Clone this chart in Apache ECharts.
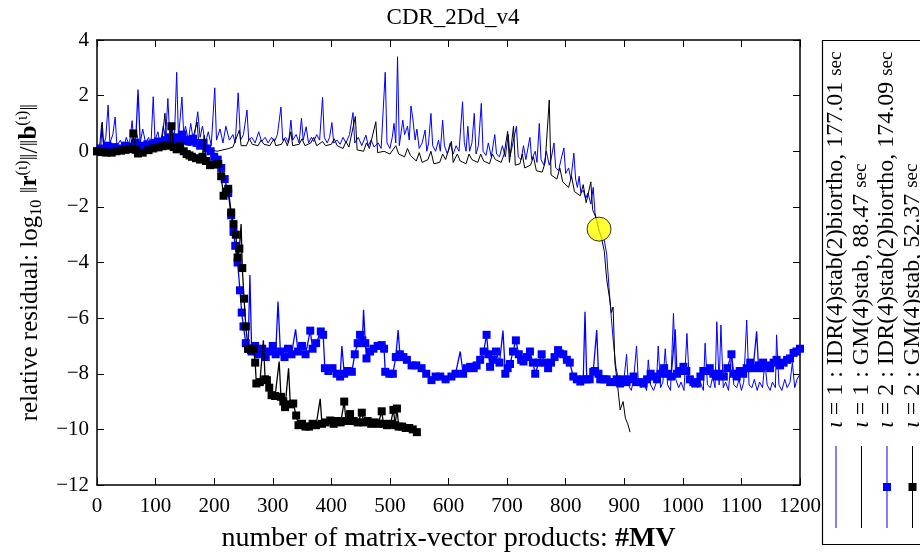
<!DOCTYPE html>
<html><head><meta charset="utf-8">
<script src="https://cdn.jsdelivr.net/npm/echarts@6/dist/echarts.min.js"></script>
<style>html,body{margin:0;padding:0;background:#fff}#c{width:920px;height:558px}</style>
</head><body><div id="c"></div>
<script>
const titleText = 'CDR_2Dd_v4';
const xTicks = { min: 0, max: 1200, step: 100 };
const yTicks = { min: -12, max: 4, step: 2 };
const legendNames = [
  ['1', 'IDR(4)stab(2)biortho, 177.01'],
  ['1', 'GM(4)stab, 88.47'],
  ['2', 'IDR(4)stab(2)biortho, 174.09'],
  ['2', 'GM(4)stab, 52.37']
];
// ι = 1 : IDR(4)stab(2)biortho
const s1 = [[0,0.0],[5,0.3],[8,1.0],[11,0.2],[15,0.5],[19,1.66],[22,0.3],[27,0.6],[31,1.23],[34,0.2],[40,0.4],[45,0.1],[50,0.5],[55,0.2],[60,1.1],[63,0.3],[68,0.6],[73,0.2],[78,0.8],[83,0.3],[88,0.5],[92,0.2],[96,1.96],[99,0.4],[104,0.7],[108,0.2],[113,0.9],[117,0.5],[121,1.9],[124,0.6],[128,0.9],[132,0.4],[136,2.84],[139,0.5],[142,1.2],[145,1.95],[148,0.6],[151,0.9],[156,0.4],[160,1.0],[165,0.3],[168,0.8],[172,1.42],[176,0.5],[180,0.9],[185,0.3],[190,0.7],[195,0.2],[201,2.28],[204,0.4],[210,0.8],[215,0.3],[220,0.9],[226,0.4],[232,0.6],[236,0.3],[241,2.1],[245,0.4],[250,0.6],[256,1.48],[259,0.4],[264,0.5],[270,0.3],[276,0.7],[281,0.35],[287,0.5],[292,0.3],[298,0.5],[303,0.35],[308,0.6],[314,1.59],[317,0.4],[322,0.5],[327,0.3],[331,1.12],[334,0.4],[340,0.6],[345,0.3],[349,1.19],[352,0.4],[357,0.88],[361,0.3],[366,0.5],[370,0.35],[375,0.6],[380,0.4],[385,1.94],[388,0.5],[393,0.3],[397,0.5],[401,1.03],[404,0.3],[410,0.4],[415,0.25],[420,0.5],[425,0.3],[431,0.6],[437,1.39],[440,0.3],[446,0.5],[452,0.2],[459,0.58],[463,0.2],[468,0.4],[473,0.15],[480,0.3],[485,0.1],[492,2.84],[495,0.3],[500,0.1],[504,0.5],[507,1.0],[510,0.3],[513,3.4],[516,0.2],[522,1.12],[525,0.6],[530,0.9],[533,0.4],[536,1.63],[539,1.2],[543,0.4],[546,0.8],[550,0.1],[555,0.3],[560,0.76],[563,0.0],[566,0.3],[570,1.36],[573,0.2],[578,0.0],[583,0.4],[586,0.0],[590,1.12],[593,0.2],[598,-0.1],[603,0.3],[608,-0.1],[613,0.2],[618,0.0],[624,1.78],[627,0.3],[630,0.0],[633,0.9],[636,0.0],[640,0.3],[644,1.36],[647,-0.1],[651,0.2],[656,1.72],[659,0.0],[664,-0.15],[668,0.3],[673,-0.2],[679,0.6],[682,-0.1],[687,-0.2],[692,0.2],[697,-0.2],[702,0.6],[705,-0.2],[710,0.3],[716,0.9],[719,-0.2],[724,-0.3],[728,0.2],[732,-0.3],[739,0.5],[742,-0.3],[748,0.0],[751,-0.4],[755,1.0],[758,-0.3],[763,-0.5],[767,0.0],[772,-0.5],[775,-0.3],[780,0.3],[783,-0.6],[788,-0.7],[792,-0.3],[797,0.12],[800,-0.8],[805,-0.6],[809,-1.0],[814,-0.07],[817,-1.0],[820,-1.3],[823,-0.9],[826,-1.5],[830,-1.4],[834,-1.7],[838,-1.5],[843,-1.9],[847,-1.3],[850,-2.2],[853,-2.5],[857,-2.9],[862,-3.1],[866,-3.2],[870,-3.7],[874,-4.9],[878,-6.0],[882,-7.0],[886,-7.8],[890,-8.2],[895,-8.3],[900,-8.1],[904,-7.3],[907,-8.4],[912,-8.6],[916,-8.2],[921,-7.0],[924,-8.3],[929,-8.5],[933,-8.3],[938,-8.6],[941,-7.5],[945,-8.4],[950,-8.6],[955,-8.3],[958,-7.0],[962,-8.5],[966,-8.3],[970,-7.1],[974,-8.4],[979,-8.6],[984,-5.83],[988,-8.2],[993,-8.5],[997,-8.3],[1002,-8.6],[1007,-6.55],[1011,-8.3],[1016,-8.5],[1020,-8.2],[1025,-8.5],[1030,-8.3],[1035,-8.6],[1038,-6.9],[1042,-8.4],[1047,-8.5],[1051,-8.1],[1055,-8.5],[1058,-6.13],[1062,-8.4],[1065,-6.25],[1069,-8.5],[1073,-8.3],[1078,-8.6],[1083,-7.3],[1087,-8.4],[1092,-8.5],[1096,-8.2],[1100,-8.6],[1104,-8.3],[1109,-6.07],[1113,-8.4],[1118,-8.5],[1122,-8.2],[1127,-8.6],[1131,-8.3],[1136,-8.5],[1140,-7.6],[1144,-8.4],[1149,-8.6],[1153,-8.3],[1158,-8.5],[1160,-6.6],[1164,-8.4],[1169,-8.6],[1174,-8.2],[1178,-8.5],[1183,-8.3],[1187,-7.6],[1191,-8.5],[1195,-8.2],[1200,-8.0]];
// ι = 1 : GM(4)stab
const s2 = [[0,0.0],[6,0.0],[9,1.05],[12,0.0],[20,0.05],[30,0.0],[40,0.05],[50,0.0],[60,0.1],[70,0.05],[80,0.1],[90,0.1],[100,0.15],[110,0.2],[116,1.37],[119,0.2],[130,0.25],[140,0.3],[150,0.25],[160,0.2],[171,1.05],[174,0.15],[185,0.1],[195,0.05],[205,0.0],[215,0.05],[225,0.1],[232,0.15],[243,0.76],[246,0.2],[255,0.2],[260,0.45],[265,0.25],[275,0.2],[280,0.4],[285,0.25],[295,0.2],[302,0.45],[305,0.2],[315,0.25],[320,0.45],[325,0.2],[331,0.7],[334,0.2],[345,0.25],[350,0.45],[355,0.2],[365,0.3],[370,0.5],[375,0.2],[385,0.35],[390,0.2],[400,0.25],[405,0.45],[410,0.2],[420,0.1],[425,0.35],[430,0.15],[441,1.25],[444,0.05],[455,0.0],[460,0.3],[465,0.1],[476,1.06],[479,-0.05],[490,0.0],[500,-0.1],[510,0.2],[515,-0.1],[525,-0.2],[530,0.1],[535,-0.15],[545,-0.35],[550,-0.05],[555,-0.4],[565,-0.3],[570,0.0],[575,-0.45],[585,-0.4],[590,-0.1],[595,-0.3],[605,0.36],[608,-0.4],[615,-0.1],[620,-0.35],[630,-0.45],[635,-0.1],[640,-0.3],[650,-0.4],[655,-0.1],[660,-0.35],[670,-0.45],[675,-0.1],[680,-0.3],[690,-0.4],[695,-0.1],[701,0.72],[704,-0.4],[711,0.9],[714,-0.5],[722,-0.45],[726,-0.1],[730,-0.6],[740,-0.5],[745,-0.2],[750,-0.7],[760,-0.75],[765,-0.4],[772,1.84],[775,-0.85],[785,-1.0],[790,-0.6],[795,-1.1],[805,-1.3],[810,-0.9],[815,-1.45],[825,-1.6],[830,-1.2],[835,-1.85],[843,-1.1],[846,-2.1],[852,-2.4],[857,-2.8],[862,-3.2],[866,-3.6],[870,-4.6],[875,-5.3],[878,-5.8],[881,-5.6],[884,-7.6],[888,-8.3],[893,-9.3],[898,-9.0],[902,-9.6],[906,-9.8],[910,-10.1]];
// ι = 2 : IDR(4)stab(2)biortho
const s3 = [[0,0.0],[6,0.1],[12,0.05],[18,0.2],[24,0.1],[30,0.15],[36,0.05],[42,0.1],[48,0.2],[54,0.1],[60,0.15],[66,0.3],[70,2.22],[74,0.2],[80,0.15],[86,0.25],[92,0.2],[98,0.3],[104,0.35],[110,0.3],[116,0.4],[122,0.5],[128,0.4],[134,0.5],[140,0.45],[146,0.6],[152,0.4],[158,0.35],[164,0.45],[170,0.3],[176,0.2],[182,0.3],[188,0.1],[194,0.0],[200,-0.2],[206,-0.3],[212,-0.6],[218,-1.0],[224,-1.5],[229,-2.3],[233,-2.9],[236,-3.4],[240,-4.0],[244,-5.0],[247,-5.8],[250,-6.3],[254,-6.9],[258,-7.1],[261,-4.45],[264,-7.2],[270,-7.0],[276,-7.3],[282,-7.1],[288,-7.4],[294,-7.2],[300,-7.0],[305,-7.3],[309,-5.4],[313,-7.2],[320,-7.4],[326,-7.1],[332,-7.3],[339,-6.4],[343,-7.2],[350,-7.0],[356,-7.3],[364,-6.45],[368,-7.1],[374,-6.9],[382,-6.48],[386,-6.6],[389,-7.8],[395,-7.9],[402,-7.8],[409,-8.0],[415,-8.1],[418,-7.0],[422,-8.0],[428,-7.9],[435,-7.93],[440,-7.3],[445,-6.9],[449,-6.6],[453,-6.8],[455,-5.7],[458,-6.9],[460,-7.45],[466,-7.2],[472,-7.1],[479,-7.0],[486,-6.97],[490,-7.1],[492,-7.93],[499,-8.0],[505,-8.0],[510,-7.4],[514,-6.43],[517,-7.3],[523,-7.4],[529,-7.5],[537,-7.7],[545,-7.7],[554,-7.8],[562,-8.0],[571,-8.23],[578,-8.1],[586,-8.1],[595,-8.2],[605,-8.1],[612,-8.0],[620,-7.2],[625,-8.0],[631,-7.8],[637,-7.75],[643,-7.8],[648,-7.7],[654,-7.5],[660,-7.2],[665,-6.6],[668,-7.3],[671,-7.75],[676,-7.5],[681,-7.2],[687,-7.6],[693,-6.45],[697,-8.0],[701,-7.8],[705,-7.65],[710,-7.2],[715,-6.8],[720,-7.3],[724,-7.5],[728,-7.56],[734,-7.4],[739,-7.2],[744,-7.6],[748,-8.0],[754,-7.6],[759,-7.3],[764,-7.6],[770,-7.8],[775,-7.6],[781,-7.4],[787,-7.15],[790,-7.27],[796,-7.3],[802,-7.5],[807,-7.6],[813,-8.1],[819,-8.2],[825,-8.28],[830,-8.2],[833,-5.77],[836,-8.2],[841,-8.2],[847,-7.93],[850,-7.9],[853,-6.43],[856,-8.0],[859,-8.2],[865,-8.2],[870,-8.2],[876,-8.3],[882,-8.3],[887,-8.2],[893,-8.35],[898,-8.2],[904,-8.3],[910,-8.2],[916,-8.1],[921,-8.3],[927,-8.3],[933,-8.35],[939,-8.2],[945,-8.0],[950,-8.1],[956,-8.2],[962,-8.0],[968,-7.8],[974,-8.0],[980,-8.1],[987,-6.4],[990,-8.0],[995,-7.9],[1001,-7.75],[1006,-7.9],[1012,-8.2],[1018,-8.3],[1024,-8.35],[1030,-8.1],[1035,-7.9],[1040,-7.9],[1046,-7.8],[1052,-8.0],[1057,-8.1],[1063,-8.0],[1070,-8.1],[1076,-7.8],[1083,-7.3],[1087,-8.0],[1092,-8.1],[1097,-7.9],[1103,-8.0],[1109,-7.8],[1115,-7.6],[1120,-7.8],[1126,-6.47],[1129,-7.7],[1133,-7.8],[1137,-7.6],[1143,-7.7],[1149,-7.8],[1155,-7.6],[1160,-7.5],[1166,-7.7],[1172,-7.6],[1178,-7.5],[1183,-7.45],[1189,-7.25],[1194,-7.2],[1200,-7.1]];
// ι = 2 : GM(4)stab
const s4 = [[0,0.0],[8,-0.03],[16,-0.05],[25,-0.05],[33,0.0],[41,0.02],[49,0.05],[56,0.08],[62,0.64],[66,0.05],[70,-0.08],[78,-0.05],[88,0.04],[96,0.1],[105,0.14],[112,0.18],[119,0.22],[124,0.2],[127,0.9],[131,0.15],[136,0.07],[142,0.18],[148,0.0],[153,-0.1],[158,-0.15],[162,-0.2],[169,-0.25],[176,-0.3],[180,-0.2],[183,0.57],[186,-0.35],[193,-0.5],[200,-0.48],[207,-0.46],[212,-0.9],[216,-1.6],[220,-1.45],[224,-1.35],[229,-2.2],[233,-2.62],[237,-3.0],[240,-3.82],[243,-3.5],[246,-2.62],[248,-4.2],[251,-5.3],[254,-6.3],[258,-7.1],[263,-7.15],[267,-7.1],[270,-7.6],[272,-8.35],[278,-8.3],[284,-6.8],[287,-8.2],[290,-8.23],[294,-8.5],[298,-8.77],[304,-8.8],[311,-7.56],[314,-8.83],[318,-9.0],[321,-9.2],[327,-7.8],[330,-9.1],[335,-9.07],[340,-9.5],[344,-9.85],[350,-9.8],[356,-9.9],[362,-9.9],[368,-9.8],[374,-9.85],[381,-8.9],[384,-9.8],[390,-9.75],[398,-9.68],[404,-9.8],[410,-9.7],[416,-9.75],[422,-9.0],[425,-9.7],[432,-9.45],[438,-9.7],[445,-9.75],[452,-9.4],[455,-9.75],[462,-9.7],[468,-9.8],[474,-9.75],[480,-9.8],[486,-9.35],[489,-9.8],[495,-9.85],[501,-9.8],[506,-9.3],[509,-9.85],[512,-9.25],[515,-9.9],[521,-9.9],[527,-9.95],[533,-9.95],[539,-10.0],[546,-10.1]];
// highlighted point
const highlight = [[857,-2.8]];

const FONT = 'Liberation Serif';
const BLUE = '#0000ff', BLACK = '#000000';

function squareSize(data){
  return function(val, p){
    const i = p.dataIndex, y = data[i][1];
    const a = i > 0 ? data[i-1][1] : y, b = i < data.length-1 ? data[i+1][1] : y;
    return (y - a > 0.7 && y - b > 0.7) ? 0 : 8;
  };
}
function fmtY(v){ return v < 0 ? '\u2212' + Math.abs(v) : String(v); }
function fmtX(v){ return String(v); }

const chart = echarts.init(document.getElementById('c'), null, {renderer:'canvas'});
const axisCommon = {
  axisLine: {show:true, onZero:false, lineStyle:{color:'#000', width:1.5}},
  axisTick: {show:true, inside:true, length:7, lineStyle:{color:'#000', width:1}},
  splitLine: {show:false}
};
const gx = {left:97, top:40, width:703, height:445};

const legendGraphics = [];
legendGraphics.push({type:'rect', shape:{x:822.5, y:40.5, width:110, height:504}, style:{fill:'#fff', stroke:'#000', lineWidth:1.2}, z:10});
const legColors = [BLUE, BLACK, BLUE, BLACK];
legendNames.forEach((n, i) => {
  const cx = 836 + i * 25.5;
  legendGraphics.push({type:'line', shape:{x1:cx, y1:446, x2:cx, y2:528}, style:{stroke:legColors[i], lineWidth:1}, z:11});
  if (i >= 2) legendGraphics.push({type:'rect', shape:{x:cx-4, y:483, width:8, height:8}, style:{fill:legColors[i]}, z:12});
  legendGraphics.push({type:'text', x:cx, y:428, rotation:Math.PI/2, z:12,
    style:{text:'{i|\u03b9} = ' + n[0] + ' : ' + n[1] + ' {s|sec}', font:'24px ' + FONT, fill:'#000',
      align:'left', verticalAlign:'middle',
      rich:{i:{fontStyle:'italic', fontFamily:FONT, fontSize:24}, s:{fontFamily:FONT, fontSize:19}}}});
});

chart.setOption({
  animation:false,
  backgroundColor:'#fff',
  title:{text:titleText, left:448, top:1, textAlign:'center', textStyle:{fontFamily:FONT, fontSize:23, fontWeight:'normal', color:'#000'}},
  grid: gx,
  xAxis:[
    Object.assign({}, axisCommon, {type:'value', position:'bottom', min:xTicks.min, max:xTicks.max, interval:xTicks.step,
      axisLabel:{color:'#000', fontFamily:FONT, fontSize:21, margin:11, formatter:fmtX},
      name:'number of matrix-vector products: {b|#MV}', nameLocation:'middle', nameGap:40,
      nameTextStyle:{color:'#000', fontFamily:FONT, fontSize:28, rich:{b:{fontWeight:'bold', fontFamily:FONT, fontSize:28}}}}),
    Object.assign({}, axisCommon, {type:'value', position:'top', min:xTicks.min, max:xTicks.max, interval:xTicks.step, axisLabel:{show:false}})
  ],
  yAxis:[
    Object.assign({}, axisCommon, {type:'value', position:'left', min:yTicks.min, max:yTicks.max, interval:yTicks.step,
      axisLabel:{color:'#000', fontFamily:FONT, fontSize:21, margin:8, formatter:fmtY},
      name:'relative residual: log{sub|10} \u2016{b|r}{sup|(\u03b9)}\u2016/\u2016{b|b}{sup|(\u03b9)}\u2016', nameLocation:'middle', nameGap:52, nameRotate:90,
      nameTextStyle:{color:'#000', fontFamily:FONT, fontSize:25, lineHeight:30,
        rich:{b:{fontWeight:'bold', fontFamily:FONT, fontSize:25, lineHeight:30},
              sub:{fontFamily:FONT, fontSize:16, verticalAlign:'bottom', lineHeight:22},
              sup:{fontFamily:FONT, fontSize:16, verticalAlign:'top', lineHeight:15}}}}),
    Object.assign({}, axisCommon, {type:'value', position:'right', min:yTicks.min, max:yTicks.max, interval:yTicks.step, axisLabel:{show:false}})
  ],
  series:[
    {type:'line', name:'s1', data:s1, symbol:'none', lineStyle:{color:BLUE, width:1}, z:2},
    {type:'line', name:'s2', data:s2, symbol:'none', lineStyle:{color:BLACK, width:1}, z:3},
    {type:'line', name:'s3', data:s3, symbol:'rect', showAllSymbol:true, symbolSize:squareSize(s3), itemStyle:{color:BLUE}, lineStyle:{color:BLUE, width:1.3}, z:4},
    {type:'line', name:'s4', data:s4, symbol:'rect', showAllSymbol:true, symbolSize:squareSize(s4), itemStyle:{color:BLACK}, lineStyle:{color:BLACK, width:1.3}, z:5},
    {type:'scatter', name:'hl', data:highlight, symbol:'circle', symbolSize:24, itemStyle:{color:'#ffff00', borderColor:'#000', borderWidth:1}, z:6}
  ],
  graphic: legendGraphics
});
</script></body></html>
